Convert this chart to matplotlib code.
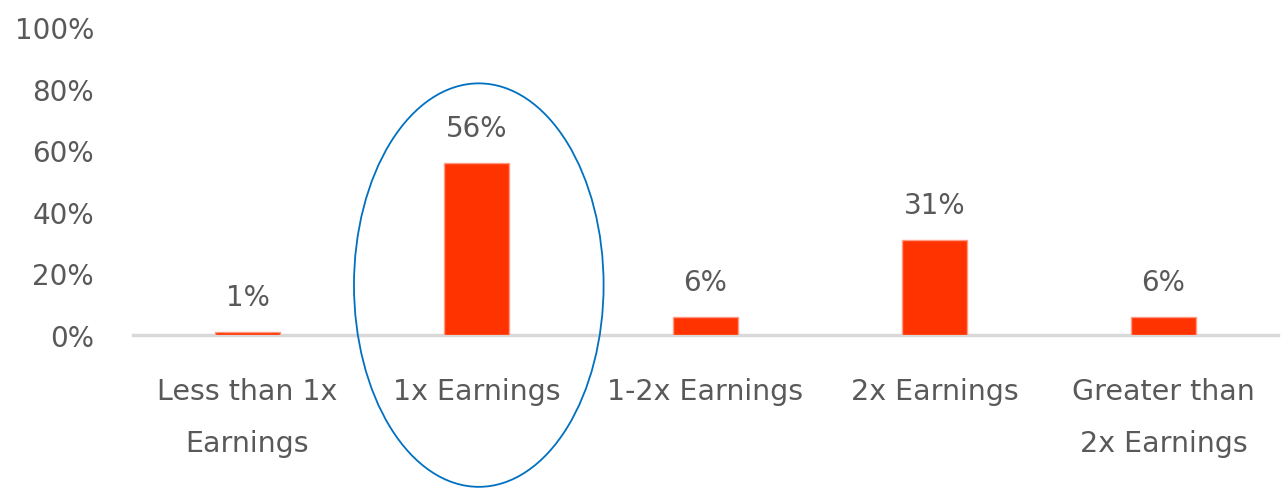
import matplotlib.pyplot as plt
from matplotlib.patches import Ellipse

categories = ["Less than 1x\nEarnings", "1x Earnings", "1-2x Earnings",
              "2x Earnings", "Greater than\n2x Earnings"]
values = [1, 56, 6, 31, 6]
yticks = [0, 20, 40, 60, 80, 100]

plt.rcParams['font.family'] = ['DejaVu Sans']
text_color = "#595959"

fig = plt.figure(figsize=(12.81, 4.89), dpi=100)
ax = fig.add_axes([133 / 1281, 1 - 336 / 489, 1145 / 1281, 308 / 489])

x = list(range(len(categories)))
ax.bar(x, values, width=0.28, color="#FF3300", edgecolor="#FF9A85",
       linewidth=1.0, zorder=3)

for xi, v in zip(x, values):
    ax.annotate(f"{v}%", (xi, v), xytext=(0, 15), textcoords="offset points",
                ha="center", va="bottom", fontsize=20, color=text_color)

ax.set_xlim(-0.5, len(categories) - 0.5)
ax.set_ylim(0, 100)
ax.set_yticks(yticks)
ax.set_yticklabels([f"{t}%" for t in yticks])
ax.set_xticks(x)
ax.set_xticklabels(categories, linespacing=2.1)
ax.tick_params(axis="y", length=0, pad=28, labelsize=20, labelcolor=text_color)
ax.tick_params(axis="x", length=0, pad=30, labelsize=20.5, labelcolor=text_color)

for s in ["top", "right", "left"]:
    ax.spines[s].set_visible(False)
ax.spines["bottom"].set_color("#D9D9D9")
ax.spines["bottom"].set_linewidth(2.5)

# highlight around the 1x Earnings bar
ell = Ellipse((1.01, 16.2), width=1.09, height=131, fill=False,
              edgecolor="#0070C0", linewidth=1.3, clip_on=False, zorder=4)
ax.add_patch(ell)

fig.savefig("out.png", dpi=100)
